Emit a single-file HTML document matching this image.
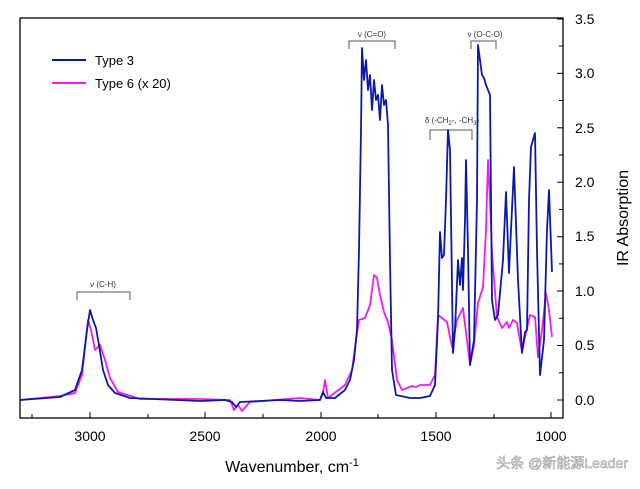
<!DOCTYPE html>
<html><head><meta charset="utf-8"><style>
body{margin:0;background:#fff;width:640px;height:484px;overflow:hidden}
svg text{font-family:"Liberation Sans",Arial,sans-serif}
</style></head><body>
<svg width="640" height="484" viewBox="0 0 640 484" xmlns="http://www.w3.org/2000/svg">
<rect x="20" y="18" width="543" height="400" fill="none" stroke="#000" stroke-width="1.3"/>
<!-- y ticks right -->
<g stroke="#000" stroke-width="1">
<line x1="563" y1="400" x2="557" y2="400"/><line x1="563" y1="345.5" x2="557" y2="345.5"/><line x1="563" y1="291" x2="557" y2="291"/><line x1="563" y1="236.7" x2="557" y2="236.7"/><line x1="563" y1="182.2" x2="557" y2="182.2"/><line x1="563" y1="127.8" x2="557" y2="127.8"/><line x1="563" y1="73.3" x2="557" y2="73.3"/><line x1="563" y1="19" x2="557" y2="19"/>
<line x1="563" y1="372.8" x2="559" y2="372.8"/><line x1="563" y1="318.3" x2="559" y2="318.3"/><line x1="563" y1="263.9" x2="559" y2="263.9"/><line x1="563" y1="209.4" x2="559" y2="209.4"/><line x1="563" y1="155" x2="559" y2="155"/><line x1="563" y1="100.5" x2="559" y2="100.5"/><line x1="563" y1="46" x2="559" y2="46"/>
<line x1="90" y1="418" x2="90" y2="412"/><line x1="205" y1="418" x2="205" y2="412"/><line x1="321" y1="418" x2="321" y2="412"/><line x1="436" y1="418" x2="436" y2="412"/><line x1="551" y1="418" x2="551" y2="412"/>
<line x1="32" y1="418" x2="32" y2="414"/><line x1="148" y1="418" x2="148" y2="414"/><line x1="263" y1="418" x2="263" y2="414"/><line x1="378" y1="418" x2="378" y2="414"/><line x1="494" y1="418" x2="494" y2="414"/>
</g>
<g font-size="14" fill="#000">
<text x="575" y="405">0.0</text><text x="575" y="350">0.5</text><text x="575" y="296">1.0</text><text x="575" y="241">1.5</text><text x="575" y="187">2.0</text><text x="575" y="133">2.5</text><text x="575" y="78">3.0</text><text x="575" y="24">3.5</text>
<g text-anchor="middle"><text x="90" y="441">3000</text><text x="205" y="441">2500</text><text x="321" y="441">2000</text><text x="436" y="441">1500</text><text x="551" y="441">1000</text></g>
</g>
<text x="292" y="472" font-size="16" text-anchor="middle">Wavenumber, cm<tspan font-size="11" dy="-6">-1</tspan></text>
<text transform="translate(628,218) rotate(-90)" font-size="16" text-anchor="middle">IR Absorption</text>
<!-- legend -->
<line x1="52" y1="60" x2="86" y2="60" stroke="#0a1aa8" stroke-width="2"/>
<text x="95" y="65" font-size="13">Type 3</text>
<line x1="52" y1="83" x2="86" y2="83" stroke="#f01cf0" stroke-width="2"/>
<text x="95" y="88" font-size="13">Type 6 (x 20)</text>
<!-- annotations -->
<g fill="none" stroke="#555" stroke-width="1">
<polyline points="77,300 77,292 130,292 130,300"/>
<polyline points="349,49 349,41 395,41 395,49"/>
<polyline points="471,49 471,41 496,41 496,49"/>
<polyline points="430,140 430,130 472,130 472,140"/>
</g>
<g font-size="8" fill="#333" text-anchor="middle">
<text x="103" y="287">ν (C-H)</text>
<text x="372" y="37">ν (C=O)</text>
<text x="485" y="37">ν (O-C-O)</text>
<text x="452" y="123">δ (-CH<tspan font-size="6" dy="2">2</tspan><tspan dy="-2">-, -CH</tspan><tspan font-size="6" dy="2">3</tspan><tspan dy="-2">)</tspan></text>
</g>
<!-- magenta -->
<polyline fill="none" stroke="#f01cf0" stroke-width="1.8" stroke-linejoin="round" points="20,400 60,396 75,393 82,375 88,320 91,330 95,350 100,345 105,360 110,378 118,392 140,399 200,399 230,400 234,410 238,405 242,411 250,402 300,398 320,400 323,393 325,380 328,398 345,385 352,370 356,340 359,320 365,318 370,305 374,275 377,278 380,295 384,312 388,322 392,340 397,380 402,390 412,386 416,387 420,385 430,385 435,375 438,315 442,318 447,322 452,347 457,320 463,308 470,365 474,345 478,303 483,287 486,230 488,160 490,200 492,253 497,317 502,328 507,322 509,328 513,320 517,323 522,352 525,337 530,315 535,317 538,357 542,330 546,293 549,310 552,337"/>
<!-- blue -->
<polyline fill="none" stroke="#0a1aa8" stroke-width="1.8" stroke-linejoin="round" points="20,400 60,397 75,390 82,370 87,330 90,310 93,320 96,328 99,345 103,370 108,385 115,393 130,398 200,401 225,400 232,402 236,407 240,402 260,401 280,400 300,401 320,400 323,392 326,398 335,398 345,390 350,380 354,360 357,330 359,250 361,130 362,48 364,80 366,60 368,90 370,75 372,110 374,80 376,100 378,95 380,120 382,85 384,105 386,100 388,125 390,260 392,370 396,395 410,398 420,398 430,396 435,385 438,320 440,232 442,258 444,255 446,200 448,130 450,150 453,353 455,330 458,260 460,285 462,258 463,290 465,220 466,160 468,250 470,365 474,340 477,200 478,45 480,60 482,75 484,78 486,85 488,90 490,95 492,300 495,320 498,315 503,260 506,192 509,273 511,230 514,167 518,280 522,353 525,332 527,330 529,200 531,147 533,140 535,133 537,250 540,375 544,340 547,230 549,190 552,272"/>
<text x="628" y="468" font-size="14" text-anchor="end" fill="#fff" stroke="#999" stroke-width="0.6" font-family="'Liberation Sans','Noto Sans CJK SC',sans-serif">头条 @新能源Leader</text>
</svg>
</body></html>
